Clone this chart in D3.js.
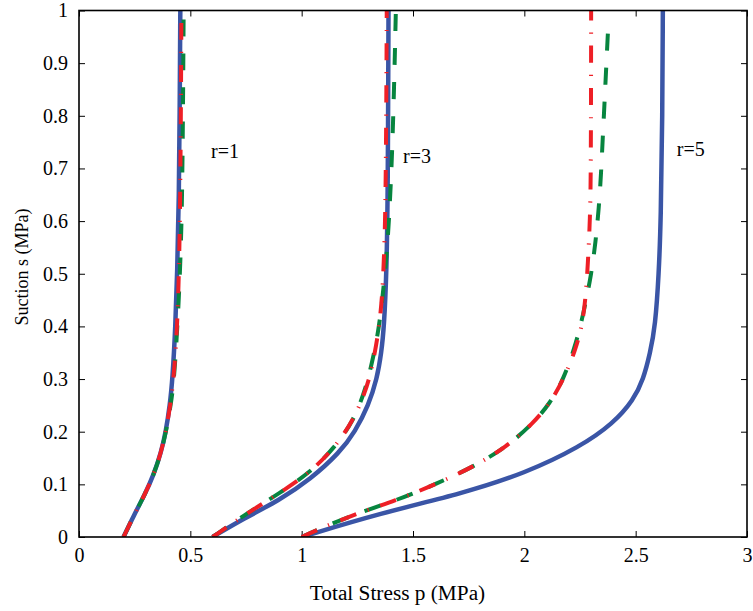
<!DOCTYPE html>
<html>
<head>
<meta charset="utf-8">
<script src="https://cdn.jsdelivr.net/npm/d3@7/dist/d3.min.js"></script>
<style>
  html, body { margin: 0; padding: 0; background: #fff; }
  svg { display: block; }
  text { font-family: "Liberation Serif", "Times New Roman", serif; fill: #000; }
</style>
</head>
<body>
<svg id="chart" width="753" height="611"></svg>
<script>
// ---- data: each curve as [suction s (MPa), total stress p (MPa)] ----
const xTicks = [0, 0.5, 1, 1.5, 2, 2.5, 3];
const yTicks = [0, 0.1, 0.2, 0.3, 0.4, 0.5, 0.6, 0.7, 0.8, 0.9, 1];

const blueR1 = [[0,0.2],[0.04,0.245],[0.08,0.295],[0.12,0.337],[0.16,0.368],[0.2,0.39],[0.25,0.408],[0.3,0.42],[0.4,0.433],[0.5,0.441],[0.65,0.449],[0.8,0.452],[1,0.455]];
const redR1  = [[0,0.2],[0.04,0.245],[0.08,0.295],[0.12,0.337],[0.16,0.368],[0.2,0.39],[0.25,0.41],[0.3,0.425],[0.4,0.442],[0.55,0.452],[0.75,0.457],[1,0.46]];
const greenR1= [[0,0.2],[0.04,0.245],[0.08,0.295],[0.12,0.337],[0.16,0.368],[0.2,0.391],[0.25,0.412],[0.3,0.428],[0.45,0.449],[0.6,0.462],[0.8,0.467],[1,0.47]];

const blueR3 = [[0,0.6],[0.035,0.74],[0.07,0.9],[0.11,1.04],[0.16,1.17],[0.2,1.24],[0.25,1.3],[0.3,1.338],[0.35,1.358],[0.4,1.37],[0.5,1.381],[0.65,1.387],[1,1.39]];
const redR3  = [[0,0.6],[0.045,0.754],[0.083,0.9],[0.123,1.04],[0.171,1.15],[0.22,1.23],[0.27,1.28],[0.304,1.307],[0.38,1.343],[0.455,1.362],[0.535,1.37],[0.615,1.376],[0.8,1.38],[1,1.382]];
const greenR3= [[0,0.6],[0.045,0.754],[0.083,0.9],[0.123,1.04],[0.171,1.15],[0.22,1.232],[0.28,1.287],[0.342,1.322],[0.406,1.352],[0.531,1.381],[0.6,1.392],[0.7,1.404],[0.85,1.415],[1,1.423]];

const blueR5 = [[0,1.0],[0.045,1.352],[0.083,1.724],[0.121,2.003],[0.171,2.25],[0.216,2.40],[0.26,2.49],[0.3,2.535],[0.35,2.565],[0.4,2.588],[0.5,2.604],[0.6,2.613],[0.8,2.62],[1,2.622]];
const redR5  = [[0,1.0],[0.038,1.2],[0.07,1.43],[0.102,1.61],[0.133,1.77],[0.171,1.92],[0.216,2.04],[0.254,2.115],[0.298,2.175],[0.355,2.23],[0.4,2.258],[0.45,2.275],[0.53,2.287],[0.607,2.295],[0.683,2.299],[1,2.30]];
const greenR5= [[0,1.0],[0.038,1.2],[0.07,1.43],[0.102,1.61],[0.133,1.77],[0.171,1.92],[0.216,2.04],[0.254,2.115],[0.298,2.175],[0.37,2.235],[0.434,2.27],[0.497,2.30],[0.56,2.32],[0.626,2.335],[0.693,2.345],[0.757,2.352],[0.823,2.36],[0.886,2.367],[0.956,2.375],[0.97,2.377]];

const curveLabels = ["r=1", "r=3", "r=5"];
const labelP = [0.593, 1.455, 2.685];
const labelS = [0.719, 0.71, 0.723];

const xTitle = "Total Stress p (MPa)";
const yTitle = "Suction s (MPa)";

// ---- layout ----
const svg = d3.select("#chart");
const margin = {left: 79, right: 6, top: 10.5, bottom: 74};
const W = 753, H = 611;
const iw = W - margin.left - margin.right;
const ih = H - margin.top - margin.bottom;

const x = d3.scaleLinear().domain([0, 3]).range([0, iw]);
const y = d3.scaleLinear().domain([0, 1]).range([ih, 0]);

const g = svg.append("g").attr("transform", `translate(${margin.left},${margin.top})`);

svg.append("defs").append("clipPath").attr("id", "clip")
  .append("rect").attr("x", 0).attr("y", 0).attr("width", iw).attr("height", ih);

const FS = 20;

// axes (ticks inward)
const xAxisB = d3.axisBottom(x).tickValues(xTicks).tickFormat(d3.format("")).tickSizeInner(-6).tickSizeOuter(0).tickPadding(11);
const xAxisT = d3.axisTop(x).tickValues(xTicks).tickFormat("").tickSizeInner(-6).tickSizeOuter(0);
const yAxisL = d3.axisLeft(y).tickValues(yTicks).tickFormat(d3.format("")).tickSizeInner(-6).tickSizeOuter(0).tickPadding(11);
const yAxisR = d3.axisRight(y).tickValues(yTicks).tickFormat("").tickSizeInner(-6).tickSizeOuter(0);

function styleAxis(sel) {
  sel.select(".domain").remove();
  sel.selectAll(".tick line").attr("stroke", "#000").attr("stroke-width", 1);
  sel.selectAll(".tick text").attr("font-size", FS).attr("font-family", "Liberation Serif").attr("fill", "#000");
}
g.append("g").attr("transform", `translate(0,${ih})`).call(xAxisB).call(styleAxis);
g.append("g").call(xAxisT).call(styleAxis);
g.append("g").call(yAxisL).call(styleAxis);
g.append("g").attr("transform", `translate(${iw},0)`).call(yAxisR).call(styleAxis);

// curves
const line = d3.line().x(d => x(d[1])).y(d => y(d[0])).curve(d3.curveBasis);
const plot = g.append("g").attr("clip-path", "url(#clip)");

const blueC = "#3a55a6", greenC = "#07853f", redC = "#ee1f26";
const solid = [blueR1, blueR3, blueR5];
const greens = [greenR1, greenR3, greenR5];
const reds = [redR1, redR3, redR5];

solid.forEach(d => plot.append("path").datum(d).attr("d", line)
  .attr("fill", "none").attr("stroke", blueC).attr("stroke-width", 4.5));
greens.forEach(d => plot.append("path").datum(d).attr("d", line)
  .attr("fill", "none").attr("stroke", greenC).attr("stroke-width", 4)
  .attr("stroke-dasharray", "17,17"));
reds.forEach(d => plot.append("path").datum(d).attr("d", line)
  .attr("fill", "none").attr("stroke", redC).attr("stroke-width", 4)
  .attr("stroke-dasharray", "17,12,1.2,12"));

// box
g.append("rect").attr("x", 0).attr("y", 0).attr("width", iw).attr("height", ih)
  .attr("fill", "none").attr("stroke", "#000").attr("stroke-width", 1.6);

// curve labels
curveLabels.forEach((t, i) => {
  g.append("text").attr("x", x(labelP[i])).attr("y", y(labelS[i]))
    .attr("font-size", FS).text(t);
});

// axis titles
svg.append("text").attr("x", 397.5).attr("y", 600).attr("text-anchor", "middle")
  .attr("font-size", 21.3).text(xTitle);
svg.append("text").attr("transform", `translate(28,267) rotate(-90)`).attr("text-anchor", "middle")
  .attr("font-size", 18).text(yTitle);
</script>
</body>
</html>
